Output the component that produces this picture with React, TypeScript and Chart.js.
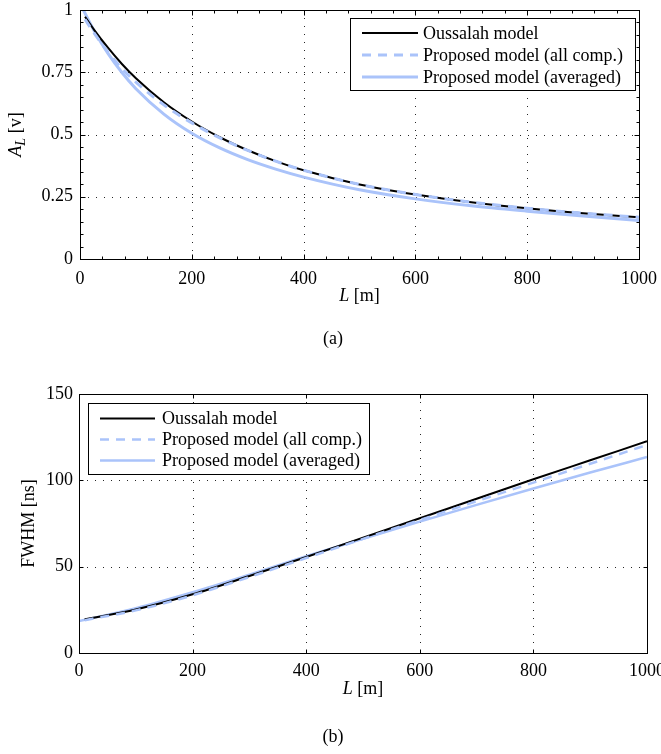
import React, { useEffect, useRef } from "react";
import { Chart, registerables } from "chart.js";

Chart.register(...registerables);

const SERIF = '"Liberation Serif", "Times New Roman", Times, serif';
const INK = "#000000";
const PALE_BLUE = "rgb(170, 195, 250)";

const seriesLabels = ["Oussalah model", "Proposed model (all comp.)", "Proposed model (averaged)"];

// ---- (a) amplitude A_L vs L ----
const aLOussalah = [9, 25, 50, 75, 100, 150, 200, 250, 300, 350, 400, 500, 600, 700, 800, 900, 1000];
const aVOussalah = [0.973, 0.9215, 0.8485, 0.7832, 0.7258, 0.6294, 0.5521, 0.489, 0.4367, 0.393, 0.3561, 0.299, 0.2586, 0.2277, 0.2034, 0.1837, 0.1674];
const aLAllComp = [9, 25, 50, 75, 100, 150, 200, 250, 300, 350, 400, 500, 600, 700, 800, 900, 1000];
const aVAllComp = [0.963, 0.908, 0.8315, 0.765, 0.71, 0.619, 0.5466, 0.4866, 0.4363, 0.393, 0.3565, 0.2995, 0.2592, 0.2283, 0.2039, 0.1841, 0.1678];
const aLAveraged = [6, 25, 50, 75, 100, 150, 200, 250, 300, 350, 400, 500, 600, 700, 800, 900, 1000];
const aVAveraged = [1.0, 0.918, 0.826, 0.749, 0.684, 0.582, 0.505, 0.446, 0.399, 0.361, 0.329, 0.278, 0.2415, 0.2135, 0.192, 0.173, 0.155];

// ---- (b) FWHM vs L ----
const bLOussalah = [10, 100, 200, 300, 400, 500, 600, 700, 800, 900, 1000];
const bVOussalah = [19.5, 25.2, 34.0, 44.6, 55.6, 66.8, 78.0, 89.3, 100.6, 111.6, 122.6];
const bLAllComp = [10, 100, 200, 300, 400, 500, 600, 700, 800, 900, 1000];
const bVAllComp = [19.0, 24.7, 33.4, 44.0, 55.0, 66.1, 77.0, 87.9, 98.7, 109.6, 120.5];
const bLAveraged = [0, 100, 200, 300, 400, 500, 600, 700, 800, 900, 1000];
const bVAveraged = [18.5, 26.0, 35.2, 45.4, 56.0, 66.2, 76.1, 85.8, 95.3, 104.5, 113.5];

// ---- ticks ----
const xTicks = [0, 200, 400, 600, 800, 1000];
const xTickLabels = ["0", "200", "400", "600", "800", "1000"];
const aYTicks = [0, 0.25, 0.5, 0.75, 1];
const aYTickLabels = ["0", "0.25", "0.5", "0.75", "1"];
const bYTicks = [0, 50, 100, 150];
const bYTickLabels = ["0", "50", "100", "150"];

type Part = { t: string; it?: boolean; sub?: boolean };

function fontOf(p: Part, size: number) {
  const s = p.sub ? Math.round(size * 0.78) : size;
  return `${p.it ? "italic " : ""}${s}px ${SERIF}`;
}

function drawRich(ctx: CanvasRenderingContext2D, parts: Part[], cx: number, baseY: number, size: number) {
  let total = 0;
  const widths = parts.map((p) => {
    ctx.font = fontOf(p, size);
    const w = ctx.measureText(p.t).width;
    total += w;
    return w;
  });
  let x = cx - total / 2;
  ctx.textAlign = "left";
  ctx.textBaseline = "alphabetic";
  ctx.fillStyle = INK;
  parts.forEach((p, i) => {
    ctx.font = fontOf(p, size);
    ctx.fillText(p.t, x, baseY + (p.sub ? size * 0.22 : 0));
    x += widths[i];
  });
}

const decorPlugin = {
  id: "decor",
  beforeDatasetsDraw(chart: any, _a: any, o: any) {
    const { ctx, chartArea: a } = chart;
    const xs = chart.scales.x;
    const ys = chart.scales.y;
    ctx.save();
    ctx.strokeStyle = "rgba(0,0,0,0.85)";
    ctx.lineWidth = 1;
    ctx.setLineDash(o.gridDash);
    ctx.beginPath();
    for (const v of o.xGrid) {
      const p = Math.round(xs.getPixelForValue(v)) + 0.5;
      if (p - a.left < 2 || a.right - p < 2) continue;
      ctx.moveTo(p, a.top);
      ctx.lineTo(p, a.bottom);
    }
    for (const v of o.yGrid) {
      const p = Math.round(ys.getPixelForValue(v)) + 0.5;
      if (p - a.top < 2 || a.bottom - p < 2) continue;
      ctx.moveTo(a.left, p);
      ctx.lineTo(a.right, p);
    }
    ctx.stroke();
    ctx.restore();
  },
  afterDatasetsDraw(chart: any, _a: any, o: any) {
    const { ctx, chartArea: a } = chart;
    const xs = chart.scales.x;
    const ys = chart.scales.y;
    ctx.save();
    ctx.setLineDash([]);
    ctx.strokeStyle = INK;
    ctx.lineWidth = 1;
    // frame
    const L = Math.round(a.left) + 0.5;
    const R = Math.round(a.right) + 0.5;
    const T = Math.round(a.top) + 0.5;
    const B = Math.round(a.bottom) + 0.5;
    ctx.strokeRect(L, T, R - L, B - T);
    // tick marks (inward, all four sides)
    ctx.beginPath();
    const xMarks: [number, number][] = [];
    const yMarks: [number, number][] = [];
    o.xGrid.forEach((v: number) => xMarks.push([v, o.majorLen]));
    o.yGrid.forEach((v: number) => yMarks.push([v, o.majorLen]));
    if (o.xMinor) {
      for (let v = xs.min + o.xMinor; v < xs.max; v += o.xMinor) xMarks.push([v, o.minorLen]);
    }
    if (o.yMinor) {
      for (let v = ys.min + o.yMinor; v < ys.max - 1e-9; v += o.yMinor) yMarks.push([v, o.minorLen]);
    }
    for (const [v, len] of xMarks) {
      const p = Math.round(xs.getPixelForValue(v)) + 0.5;
      ctx.moveTo(p, B);
      ctx.lineTo(p, B - len);
      ctx.moveTo(p, T);
      ctx.lineTo(p, T + len);
    }
    for (const [v, len] of yMarks) {
      const p = Math.round(ys.getPixelForValue(v)) + 0.5;
      ctx.moveTo(L, p);
      ctx.lineTo(L + len, p);
      ctx.moveTo(R, p);
      ctx.lineTo(R - len, p);
    }
    ctx.stroke();

    // legend
    const lg = o.legend;
    const boxH = lg.padTop + lg.rowH * chart.data.datasets.length + lg.padBottom;
    const bx = lg.side === "right" ? a.right - lg.dx - lg.width : a.left + lg.dx;
    const by = a.top + lg.dy;
    ctx.fillStyle = "#ffffff";
    ctx.fillRect(bx, by, lg.width, boxH);
    ctx.strokeStyle = INK;
    ctx.lineWidth = 1;
    ctx.strokeRect(Math.round(bx) + 0.5, Math.round(by) + 0.5, lg.width, boxH);
    chart.data.datasets.forEach((ds: any, i: number) => {
      const cy = by + lg.padTop + lg.rowH * (i + 0.5);
      ctx.beginPath();
      ctx.setLineDash(ds.borderDash || []);
      ctx.strokeStyle = ds.borderColor;
      ctx.lineWidth = ds.borderWidth;
      ctx.moveTo(bx + lg.padLeft, cy);
      ctx.lineTo(bx + lg.padLeft + lg.lineLen, cy);
      ctx.stroke();
      ctx.setLineDash([]);
      ctx.fillStyle = INK;
      ctx.font = `18px ${SERIF}`;
      ctx.textAlign = "left";
      ctx.textBaseline = "middle";
      ctx.fillText(ds.label, bx + lg.padLeft + lg.lineLen + lg.gap, cy + 1);
    });

    // axis titles
    drawRich(ctx, o.xTitle, (a.left + a.right) / 2, a.bottom + o.xTitleDy, 18);
    ctx.save();
    ctx.translate(o.yTitleX, (a.top + a.bottom) / 2);
    ctx.rotate(-Math.PI / 2);
    drawRich(ctx, o.yTitle, 0, 0, 18);
    ctx.restore();

    // caption
    ctx.fillStyle = INK;
    ctx.font = `18px ${SERIF}`;
    ctx.textAlign = "center";
    ctx.textBaseline = "alphabetic";
    ctx.fillText(o.caption, o.captionX, o.captionY);
    ctx.restore();
  },
};

const pts = (xs: number[], ys: number[]) => xs.map((x, i) => ({ x, y: ys[i] }));

function lineSet(label: string, data: any[], color: string, width: number, dash: number[] | undefined, order: number) {
  return {
    label,
    data,
    borderColor: color,
    backgroundColor: color,
    borderWidth: width,
    borderDash: dash,
    pointRadius: 0,
    fill: false,
    order,
    cubicInterpolationMode: "monotone",
  };
}

function makeConfig(p: any) {
  return {
    type: "line",
    data: {
      datasets: [
        lineSet(seriesLabels[0], pts(p.l0, p.v0), INK, 2, undefined, 1),
        lineSet(seriesLabels[1], pts(p.l1, p.v1), PALE_BLUE, p.blueWidth, [9, 7], 0),
        lineSet(seriesLabels[2], pts(p.l2, p.v2), PALE_BLUE, p.blueWidth, undefined, 2),
      ],
    },
    options: {
      responsive: false,
      maintainAspectRatio: false,
      animation: false,
      devicePixelRatio: 1,
      events: [],
      layout: { autoPadding: false, padding: p.padding },
      plugins: {
        legend: { display: false },
        tooltip: { enabled: false },
        decor: p.decor,
      },
      scales: {
        x: {
          type: "linear",
          min: 0,
          max: 1000,
          grid: { display: false, drawTicks: false },
          border: { display: false },
          ticks: {
            color: INK,
            font: { family: SERIF, size: 18 },
            padding: p.xPad,
            autoSkip: false,
            maxRotation: 0,
            callback: (_v: any, i: number) => xTickLabels[i],
          },
          afterBuildTicks: (s: any) => {
            s.ticks = xTicks.map((v) => ({ value: v }));
          },
          afterFit: (s: any) => {
            s.height = 40;
            s.paddingLeft = 0;
            s.paddingRight = 0;
          },
        },
        y: {
          type: "linear",
          min: p.yMin,
          max: p.yMax,
          grid: { display: false, drawTicks: false },
          border: { display: false },
          ticks: {
            color: INK,
            font: { family: SERIF, size: 18 },
            padding: p.yPad,
            autoSkip: false,
            callback: (_v: any, i: number) => p.yLabels[i],
          },
          afterBuildTicks: (s: any) => {
            s.ticks = p.yTicks.map((v: number) => ({ value: v }));
          },
          afterFit: (s: any) => {
            s.width = p.yWidth;
            s.paddingTop = 0;
            s.paddingBottom = 0;
          },
        },
      },
    },
    plugins: [decorPlugin],
  };
}

function ChartCanvas({ top, height, build }: { top: number; height: number; build: () => any }) {
  const ref = useRef<HTMLCanvasElement>(null);
  useEffect(() => {
    const chart = new Chart(ref.current as HTMLCanvasElement, build());
    return () => chart.destroy();
  }, []);
  return (
    <canvas
      ref={ref}
      width={661}
      height={height}
      style={{ position: "absolute", left: 0, top, width: 661, height }}
    />
  );
}

const buildA = () =>
  makeConfig({
    l0: aLOussalah, v0: aVOussalah,
    l1: aLAllComp, v1: aVAllComp,
    l2: aLAveraged, v2: aVAveraged,
    blueWidth: 3,
    padding: { left: 0, right: 22, top: 10, bottom: 61 },
    yMin: 0, yMax: 1, yTicks: aYTicks, yLabels: aYTickLabels, yPad: 7, yWidth: 80, xPad: 9,
    decor: {
      gridDash: [1, 7],
      xGrid: xTicks,
      yGrid: aYTicks,
      xMinor: 40,
      yMinor: 0.05,
      majorLen: 5,
      minorLen: 3,
      legend: { side: "right", dx: 4, dy: 8, width: 285, rowH: 22, padTop: 4, padBottom: 2, padLeft: 12, lineLen: 56, gap: 5 },
      xTitle: [{ t: "L", it: true }, { t: " [m]" }],
      xTitleDy: 42,
      yTitle: [{ t: "A", it: true }, { t: "L", it: true, sub: true }, { t: " [v]" }],
      yTitleX: 21,
      caption: "(a)",
      captionX: 333,
      captionY: 344,
    },
  });

const buildB = () =>
  makeConfig({
    l0: bLOussalah, v0: bVOussalah,
    l1: bLAllComp, v1: bVAllComp,
    l2: bLAveraged, v2: bVAveraged,
    blueWidth: 2.5,
    padding: { left: 0, right: 14, top: 24, bottom: 61 },
    yMin: 0, yMax: 150, yTicks: bYTicks, yLabels: bYTickLabels, yPad: 6, yWidth: 79, xPad: 7,
    decor: {
      gridDash: [1, 7],
      xGrid: xTicks,
      yGrid: bYTicks,
      xMinor: 0,
      yMinor: 0,
      majorLen: 4,
      minorLen: 0,
      legend: { side: "left", dx: 9, dy: 9, width: 281, rowH: 21, padTop: 5, padBottom: 3, padLeft: 12, lineLen: 55, gap: 7 },
      xTitle: [{ t: "L", it: true }, { t: " [m]" }],
      xTitleDy: 41,
      yTitle: [{ t: "FWHM [ns]" }],
      yTitleX: 34,
      caption: "(b)",
      captionX: 333,
      captionY: 372,
    },
  });

export default function App() {
  return (
    <div style={{ position: "absolute", left: 0, top: 0, width: 661, height: 754, background: "#ffffff", overflow: "hidden" }}>
      <ChartCanvas top={0} height={360} build={buildA} />
      <ChartCanvas top={370} height={384} build={buildB} />
    </div>
  );
}
